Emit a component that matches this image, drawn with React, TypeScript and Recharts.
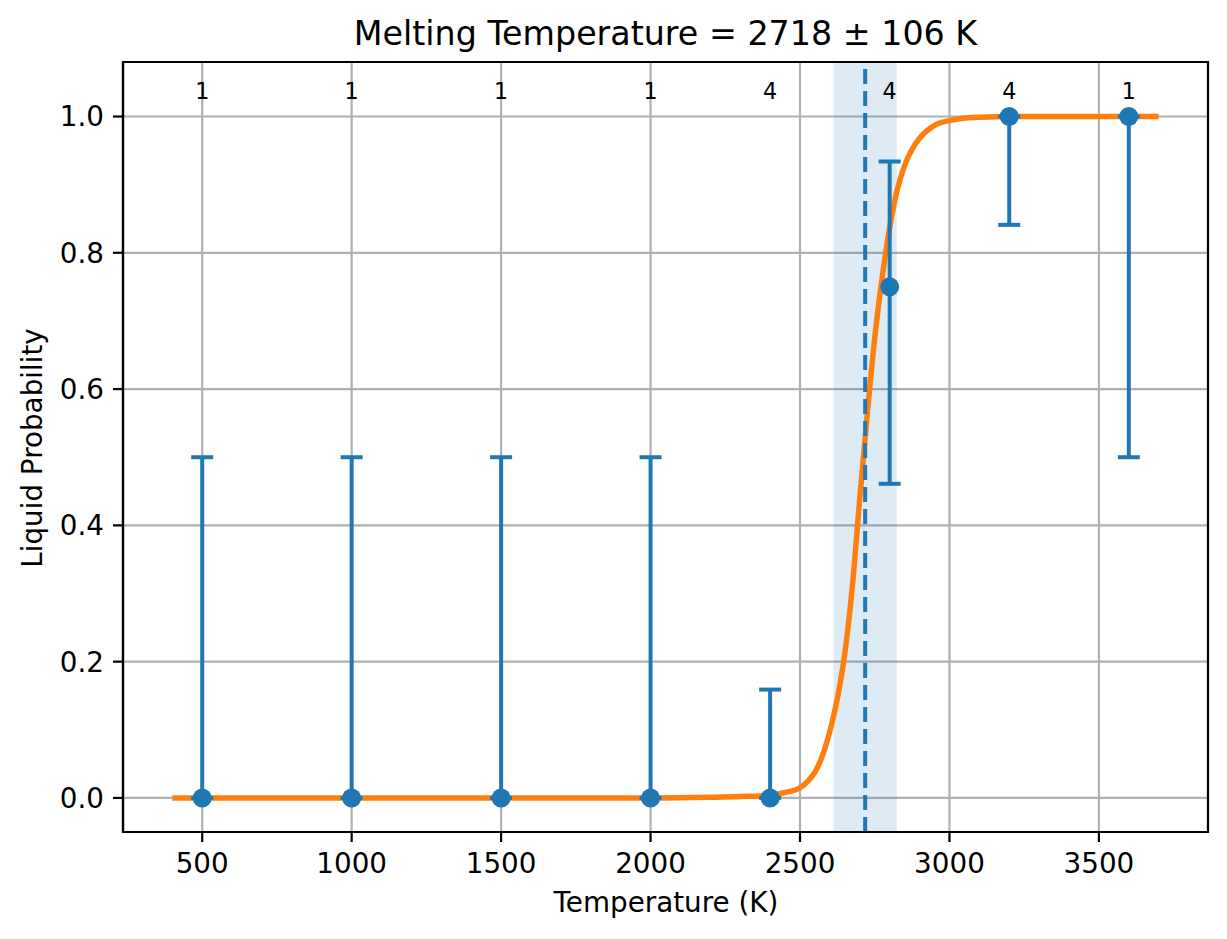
import React from 'react';
import {
  ComposedChart,
  XAxis,
  YAxis,
  CartesianGrid,
  Line,
  Scatter,
  ErrorBar,
  ReferenceArea,
  ReferenceLine,
} from 'recharts';

// measured points
const temps = [500, 1000, 1500, 2000, 2400, 2800, 3200, 3600];
const probs = [0, 0, 0, 0, 0, 0.75, 1, 1];
const errLow = [0, 0, 0, 0, 0, 0.289, 0.159, 0.5];
const errHigh = [0.5, 0.5, 0.5, 0.5, 0.159, 0.184, 0, 0];
const counts = [1, 1, 1, 1, 4, 4, 4, 1];

// fitted curve
const fitT = [400, 1500, 2000, 2200, 2300, 2400, 2450, 2500, 2525, 2550, 2575, 2600, 2625, 2650, 2675, 2700, 2725, 2750, 2775, 2800, 2825, 2850, 2875, 2900, 2950, 3000, 3100, 3300, 3700];
const fitP = [0, 0, 0, 0.001, 0.002, 0.004, 0.008, 0.015, 0.024, 0.038, 0.062, 0.098, 0.146, 0.212, 0.31, 0.44, 0.563, 0.675, 0.764, 0.837, 0.892, 0.928, 0.952, 0.968, 0.987, 0.994, 0.999, 1, 1];

const meltT = 2718;
const meltErr = 106;
const countY = 1.026;

const xDomain = [235, 3865];
const yDomain = [-0.05, 1.08];
const xTicks = [500, 1000, 1500, 2000, 2500, 3000, 3500];
const yTicks = [0, 0.2, 0.4, 0.6, 0.8, 1.0];

const points = temps.map((t, i) => ({ x: t, y: probs[i], err: [errLow[i], errHigh[i]] }));
const countData = temps.map((t, i) => ({ x: t, y: countY, n: counts[i] }));
const fitData = fitT.map((t, i) => ({ x: t, p: fitP[i] }));

const FONT = 'DejaVu Sans, sans-serif';
const BLUE = '#1f77b4';
const ORANGE = '#ff7f0e';
const tickStyle = { fill: '#000', fontSize: 27.8, fontFamily: FONT };
const spine = { stroke: '#000', strokeWidth: 2.2 };

export default function App() {
  return (
    <div style={{ position: 'absolute', left: 0, top: 0, width: 1227, height: 939, background: '#fff' }}>
      <div
        style={{
          position: 'absolute',
          left: 123,
          top: 13.5,
          width: 1085,
          textAlign: 'center',
          fontFamily: FONT,
          fontSize: 33.3,
          lineHeight: '40px',
          color: '#000',
          whiteSpace: 'nowrap',
        }}
      >
        Melting Temperature = {meltT} ± {meltErr} K
      </div>
      <ComposedChart width={1227} height={939} margin={{ top: 62, right: 19, left: 0, bottom: 0 }}>
        <CartesianGrid stroke="#b0b0b0" strokeWidth={2.2} />
        <XAxis
          dataKey="x"
          type="number"
          domain={xDomain}
          ticks={xTicks}
          interval={0}
          allowDataOverflow
          height={107}
          tick={tickStyle}
          tickSize={10}
          tickMargin={11}
          tickLine={spine}
          axisLine={spine}
          label={() => (
            <text x={666} y={912} textAnchor="middle" fontSize={27.8} fontFamily={FONT} fill="#000">
              Temperature (K)
            </text>
          )}
        />
        <YAxis
          type="number"
          domain={yDomain}
          ticks={yTicks}
          interval={0}
          allowDataOverflow
          width={123}
          tick={tickStyle}
          tickSize={10}
          tickMargin={9}
          tickLine={spine}
          axisLine={spine}
          tickFormatter={(v: number) => v.toFixed(1)}
          label={() => (
            <text
              x={42}
              y={448}
              transform="rotate(-90 42 448)"
              textAnchor="middle"
              fontSize={27.8}
              fontFamily={FONT}
              fill="#000"
            >
              Liquid Probability
            </text>
          )}
        />
        <ReferenceArea x1={meltT - meltErr} x2={meltT + meltErr} fill={BLUE} fillOpacity={0.15} stroke="none" />
        <Line
          data={fitData}
          dataKey="p"
          type="monotoneX"
          stroke={ORANGE}
          strokeWidth={5.5}
          dot={false}
          activeDot={false}
          isAnimationActive={false}
        />
        <ReferenceLine x={meltT} stroke={BLUE} strokeWidth={4} strokeDasharray="15 7" />
        <Scatter
          data={points}
          dataKey="y"
          fill={BLUE}
          isAnimationActive={false}
          shape={(p: any) => <circle cx={p.cx} cy={p.cy} r={9.5} fill={BLUE} />}
        >
          <ErrorBar dataKey="err" direction="y" width={11} stroke={BLUE} strokeWidth={4} isAnimationActive={false} />
        </Scatter>
        <Scatter
          data={countData}
          dataKey="y"
          isAnimationActive={false}
          shape={(p: any) => (
            <text x={p.cx} y={p.cy} textAnchor="middle" fontSize={22.2} fontFamily={FONT} fill="#000">
              {p.payload.n}
            </text>
          )}
        />
        {/* axes frame */}
        <ReferenceArea
          x1={xDomain[0]}
          x2={xDomain[1]}
          y1={yDomain[0]}
          y2={yDomain[1]}
          fill="none"
          fillOpacity={0}
          stroke="#000"
          strokeWidth={2.2}
        />
      </ComposedChart>
    </div>
  );
}
